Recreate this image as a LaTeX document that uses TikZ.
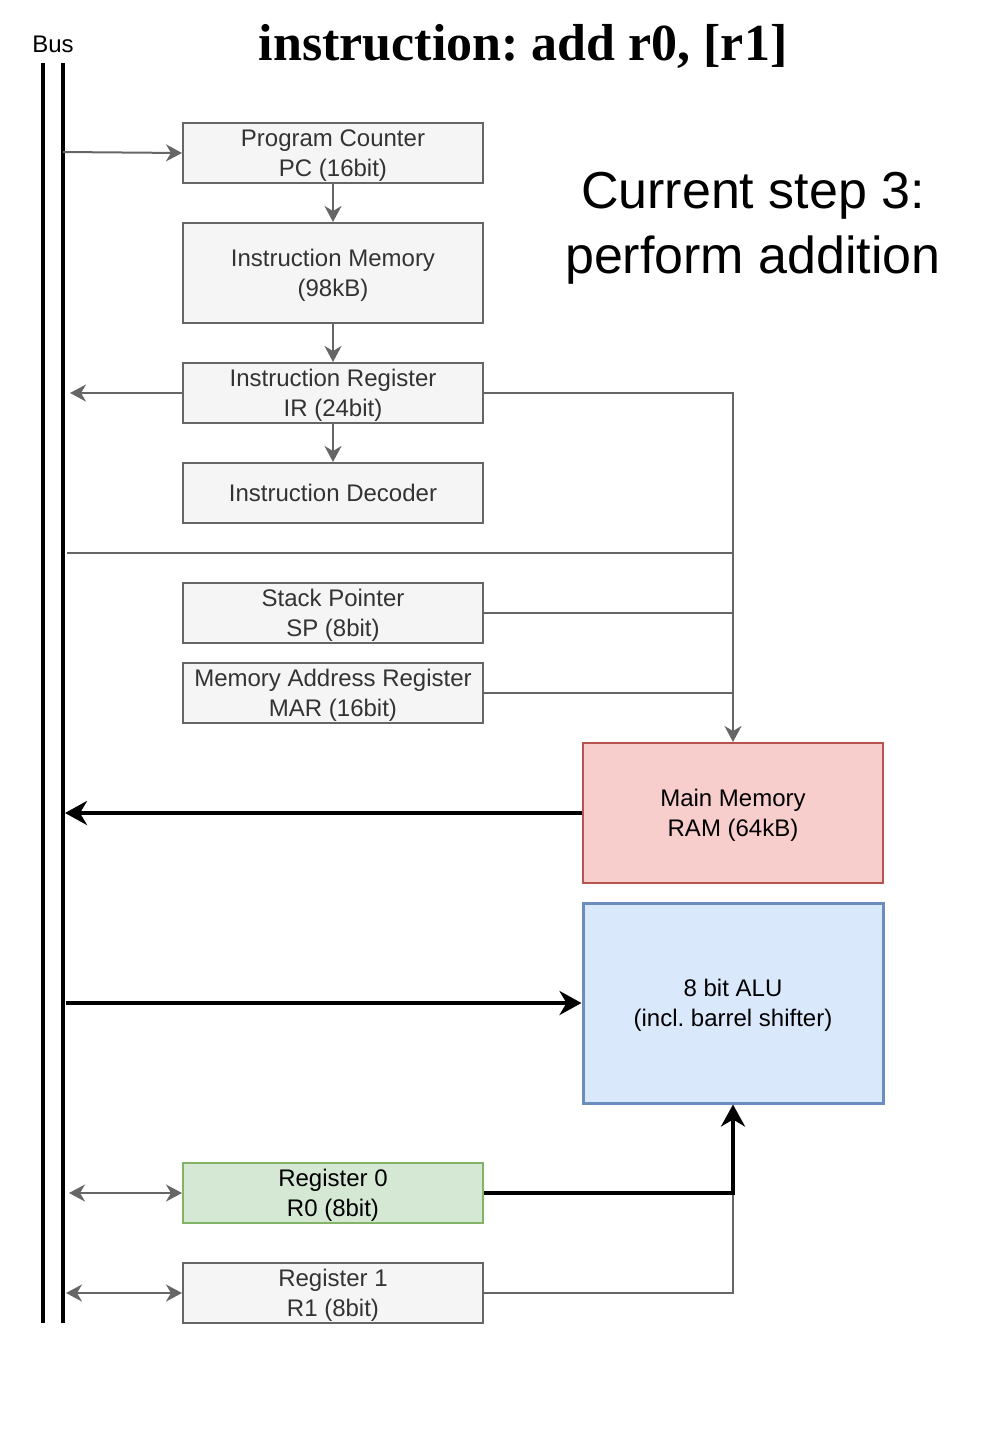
\documentclass[tikz,border=0pt]{standalone}
\usepackage{fontspec}
\setmainfont{Liberation Sans}
\newfontfamily\titlefont{Liberation Serif}
\usetikzlibrary{arrows.meta}
\frenchspacing
\definecolor{gstroke}{HTML}{666666}
\definecolor{gfill}{HTML}{F5F5F5}
\definecolor{gtext}{HTML}{333333}
\definecolor{rfill}{HTML}{F8CECC}
\definecolor{rstroke}{HTML}{B85450}
\definecolor{bfill}{HTML}{DAE8FC}
\definecolor{bstroke}{HTML}{6C8EBF}
\definecolor{grfill}{HTML}{D5E8D4}
\definecolor{grstroke}{HTML}{82B366}
\tikzset{
  box/.style={draw=gstroke, fill=gfill, text=gtext, line width=2pt, minimum width=300pt, minimum height=60pt, inner sep=0pt, align=center, text depth=0pt, font=\fontsize{24}{30}\selectfont},
  gline/.style={draw=gstroke, line width=2pt},
  garrow/.style={gline, -{Stealth[length=16pt,width=17pt,inset=5pt]}},
  gdarrow/.style={gline, {Stealth[length=16pt,width=17pt,inset=5pt]}-{Stealth[length=16pt,width=17pt,inset=5pt]}},
  barrow/.style={draw=black, line width=4pt, -{Stealth[length=22pt,width=24pt,inset=7pt]}},
  busline/.style={draw=black, line width=4pt},
}
\begin{document}
\begin{tikzpicture}[x=1pt,y=-1pt]
\useasboundingbox (0,0) rectangle (1006,1446);
% bus
\coordinate (b1t) at (43,63);
\coordinate (b1b) at (43,1323);
\coordinate (b2t) at (63,63);
\coordinate (b2b) at (63,1323);
\draw[busline] (b1t) -- (b1b);
\draw[busline] (b2t) -- (b2b);
\node[font=\fontsize{24}{29}\selectfont] (bus) at (53,44) {Bus};
% title
\node[font=\titlefont\bfseries\fontsize{52}{60}\selectfont] (title) at (523,46) {instruction: add r0, [r1]};
\node[font=\fontsize{52}{65}\selectfont, align=center] (step) at (753,228) {Current step 3:\\perform addition};
% boxes
\node[box] (pc) at (333,153) {Program Counter\\PC (16bit)};
\node[box, minimum height=100pt] (im) at (333,273) {Instruction Memory\\(98kB)};
\node[box] (ir) at (333,393) {Instruction Register\\IR (24bit)};
\node[box] (dec) at (333,493) {Instruction Decoder};
\node[box] (sp) at (333,613) {Stack Pointer\\SP (8bit)};
\node[box] (mar) at (333,693) {Memory Address Register\\MAR (16bit)};
\node[box, fill=rfill, draw=rstroke, text=black, minimum height=140pt] (mm) at (733,813) {Main Memory\\RAM (64kB)};
\node[box, fill=bfill, draw=bstroke, text=black, line width=3pt, minimum height=200pt] (alu) at (733,1003) {8 bit ALU\\(incl. barrel shifter)};
\node[box, fill=grfill, draw=grstroke, text=black] (r0) at (333,1193) {Register 0\\R0 (8bit)};
\node[box] (r1) at (333,1293) {Register 1\\R1 (8bit)};
% bus taps
\coordinate (tpc) at (63,152);
\coordinate (tir) at (70,393);
\coordinate (tmm) at (65,813);
\coordinate (talu) at (66,1003);
\coordinate (tr0) at (69,1193);
\coordinate (tr1) at (66,1293);
\coordinate (sepL) at (67,553);
\coordinate (sepR) at (733,553);
% connectors
\draw[garrow] (tpc) -- (pc.west);
\draw[garrow] (pc.south) -- (im.north);
\draw[garrow] (im.south) -- (ir.north);
\draw[garrow] (ir.west) -- (tir);
\draw[garrow] (ir.south) -- (dec.north);
\draw[garrow] (ir.east) -| (mm.north);
\draw[gline] (sp.east) -- (sp.east -| mm.north);
\draw[gline] (mar.east) -- (mar.east -| mm.north);
\draw[gline] (sepL) -- (sepR);
\draw[barrow] (mm.west) -- (tmm);
\draw[barrow] (talu) -- (alu.west);
\draw[gline] (r1.east) -| (r0.east -| alu.south);
\draw[barrow] (r0.east) -| (alu.south);
\draw[gdarrow] (tr0) -- (r0.west);
\draw[gdarrow] (tr1) -- (r1.west);
\end{tikzpicture}
\end{document}
